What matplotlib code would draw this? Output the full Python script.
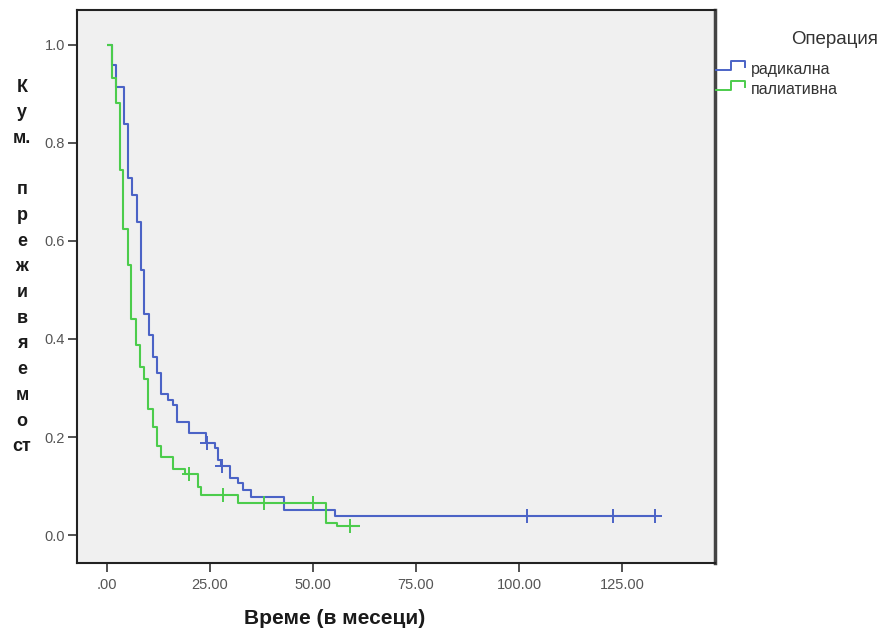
import numpy as np
import matplotlib.pyplot as plt
from matplotlib.lines import Line2D
from matplotlib.legend_handler import HandlerBase

plt.rcParams["font.family"] = ["Liberation Sans", "DejaVu Sans"]

# Kaplan-Meier steps (months, cumulative survival)
rad_times = [0, 1.2, 2.2, 4.1, 5.1, 6.1, 7.3, 8.3, 9.0, 10.1, 11.2, 12.1, 13.1,
             14.9, 16.0, 17.0, 20.0, 24.0, 26.2, 26.9, 27.6, 29.9, 31.8, 33.0,
             35.0, 43.0, 55.3]
rad_surv = [1.0, 0.959, 0.914, 0.839, 0.729, 0.694, 0.639, 0.541, 0.451, 0.408,
            0.363, 0.331, 0.288, 0.276, 0.265, 0.231, 0.208, 0.188, 0.178, 0.153,
            0.141, 0.116, 0.106, 0.092, 0.078, 0.051, 0.039]
rad_end = 133.0
rad_censored = [24.3, 28.0, 102.0, 122.8, 133.0]

pal_times = [0, 1.2, 2.2, 3.2, 3.9, 5.1, 5.9, 7.0, 8.0, 9.0, 10.0, 11.2, 12.1,
             13.1, 16.0, 18.9, 22.1, 22.8, 31.8, 53.2, 55.8]
pal_surv = [1.0, 0.933, 0.882, 0.745, 0.624, 0.551, 0.441, 0.388, 0.343, 0.318,
            0.257, 0.220, 0.182, 0.159, 0.135, 0.124, 0.098, 0.082, 0.065, 0.024,
            0.018]
pal_end = 61.4
pal_censored = [19.9, 28.2, 38.0, 50.0, 59.0]

group_labels = ["радикална", "палиативна"]
legend_title = "Операция"
x_ticks = [0, 25, 50, 75, 100, 125]
x_ticklabels = [".00", "25.00", "50.00", "75.00", "100.00", "125.00"]
y_ticks = [0.0, 0.2, 0.4, 0.6, 0.8, 1.0]
y_label_lines = ["К", "у", "м.", "", "п", "р", "е", "ж", "и", "в", "я", "е",
                 "м", "о", "ст"]
x_label = "Време (в месеци)"

BLUE = "#4b63c6"
GREEN = "#4ccc4c"


class StepHandler(HandlerBase):
    def create_artists(self, legend, orig_handle, xdescent, ydescent,
                       width, height, fontsize, trans):
        xs = np.array([0, 0.48, 0.48, 0.95, 0.95]) * width - xdescent
        ys = np.array([0.35, 0.35, 1.15, 1.15, 0.6]) * height - ydescent
        line = Line2D(xs, ys, color=orig_handle.get_color(), lw=1.4,
                      transform=trans)
        return [line]


def km_curve(ax, times, surv, end, censored, color):
    t = np.append(times, end)
    s = np.append(surv, surv[-1])
    ax.step(t, s, where="post", color=color, lw=1.5, solid_capstyle="butt")
    idx = np.searchsorted(times, censored, side="right") - 1
    ax.plot(censored, np.array(surv)[idx], ls="none", marker="+",
            ms=10, mew=1.4, color=color)


fig = plt.figure(figsize=(8.8, 6.3), dpi=100)
W, H = 880, 630
ax = fig.add_axes([77 / W, 1 - 563 / H, (715 - 77) / W, (563 - 10) / H])
ax.set_facecolor("#f0f0f0")

km_curve(ax, rad_times, rad_surv, rad_end, rad_censored, BLUE)
km_curve(ax, pal_times, pal_surv, pal_end, pal_censored, GREEN)

ax.set_xlim(-7.3, 147.6)
ax.set_ylim(-0.057, 1.071)
ax.set_xticks(x_ticks)
ax.set_xticklabels(x_ticklabels)
ax.set_yticks(y_ticks)
ax.set_yticklabels([f"{v:.1f}" for v in y_ticks])
ax.tick_params(axis="both", direction="out", length=6.5, width=1.2,
               colors="#333333", labelcolor="#555555", labelsize=10.5)
ax.tick_params(axis="x", pad=4)
ax.tick_params(axis="y", pad=2)
for side, sp in ax.spines.items():
    sp.set_color("#222222")
    sp.set_linewidth(1.5)
ax.spines["right"].set_color("#444444")
ax.spines["right"].set_linewidth(2.5)

# stacked vertical y label
for i, ch in enumerate(y_label_lines):
    if ch:
        fig.text(22 / W, 1 - (87 + i * 25.7) / H, ch, ha="center", va="center",
                 fontsize=13, fontweight="bold", color="#1a1a1a")

fig.text(335 / W, 1 - 619 / H, x_label, ha="center", va="center",
         fontsize=15, fontweight="bold", color="#1a1a1a")

handles = [Line2D([], [], color=BLUE), Line2D([], [], color=GREEN)]
fig.legend(handles, group_labels, loc="upper left",
           bbox_to_anchor=(716 / W, 1 - 62 / H), borderaxespad=0, borderpad=0,
           handlelength=1.9, handletextpad=0.3, labelspacing=0.3,
           frameon=False, fontsize=11.5, labelcolor="#333333",
           handler_map={Line2D: StepHandler()})
fig.text(878 / W, 1 - 40 / H, legend_title, ha="right", va="center",
         fontsize=13.5, color="#333333")

fig.savefig("out.png", dpi=100)
